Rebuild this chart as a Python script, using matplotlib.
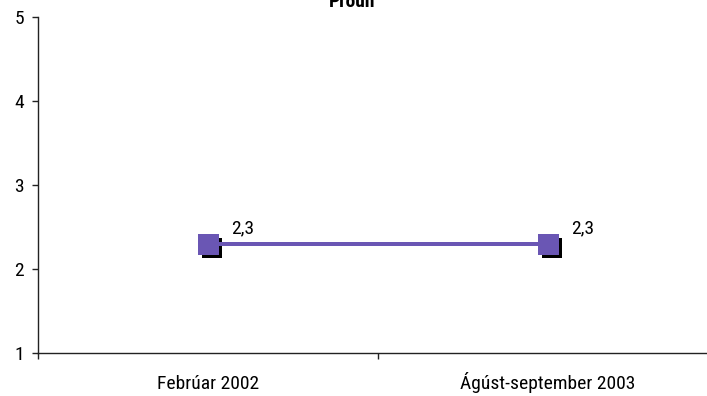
import matplotlib
matplotlib.use("Agg")
import matplotlib.pyplot as plt
import matplotlib.transforms as mtransforms

categories = ["Febrúar 2002", "Ágúst-september 2003"]
values = [2.3, 2.3]
value_labels = ["2,3", "2,3"]
title = "Próun"

plt.rcParams["font.family"] = ["Roboto Condensed", "DejaVu Sans"]

W, H = 707, 396
DPI = 100
px = 72 / DPI  # points per pixel
fig = plt.figure(figsize=(W / DPI, H / DPI), dpi=DPI)
left, right = 38, 718
top, bottom = 17, 353
ax = fig.add_axes([left / W, 1 - bottom / H, (right - left) / W, (bottom - top) / H])
ax.set_xlim(-0.5, 1.5)
ax.set_ylim(1, 5)

x = list(range(len(categories)))
purple = "#6A56B4"
shadow = mtransforms.offset_copy(ax.transData, fig=fig, x=4, y=-4, units="dots")
ax.plot(x, values, linestyle="none", marker="s", markersize=20 * px, color="black",
        markeredgewidth=0, transform=shadow, zorder=2, clip_on=False)
ax.plot(x, values, color=purple, linewidth=4 * px, marker="s", markersize=21 * px,
        markerfacecolor=purple, markeredgewidth=0, zorder=3, clip_on=False)
for xi, v, lab in zip(x, values, value_labels):
    ax.annotate(lab, (xi, v), xytext=(23 * px, 10 * px), textcoords="offset points",
                fontsize=14, ha="left", va="baseline", color="black")

for s in ["top", "right"]:
    ax.spines[s].set_visible(False)
for s in ["left", "bottom"]:
    ax.spines[s].set_linewidth(1.0)
    ax.spines[s].set_color("#222222")

ax.set_yticks([1, 2, 3, 4, 5])
ax.set_yticklabels(["1", "2", "3", "4", "5"], fontsize=14)
ax.tick_params(axis="y", direction="out", length=6 * px, width=1.0, pad=8 * px, colors="#222222",
               labelcolor="black")
ax.set_xticks([-0.5, 0.5, 1.5])
ax.set_xticklabels([])
ax.tick_params(axis="x", direction="out", length=6 * px, width=1.0, colors="#222222")

xt = mtransforms.blended_transform_factory(ax.transData, fig.transFigure)
for xi, cat in zip(x, categories):
    ax.text(xi, 1 - 389 / H, cat, transform=xt, ha="center", va="baseline", fontsize=14)

fig.text(352 / W, 1 - 7 / H, title, ha="center", va="baseline", fontsize=14, fontweight="bold")

fig.savefig("out.png", dpi=DPI)
